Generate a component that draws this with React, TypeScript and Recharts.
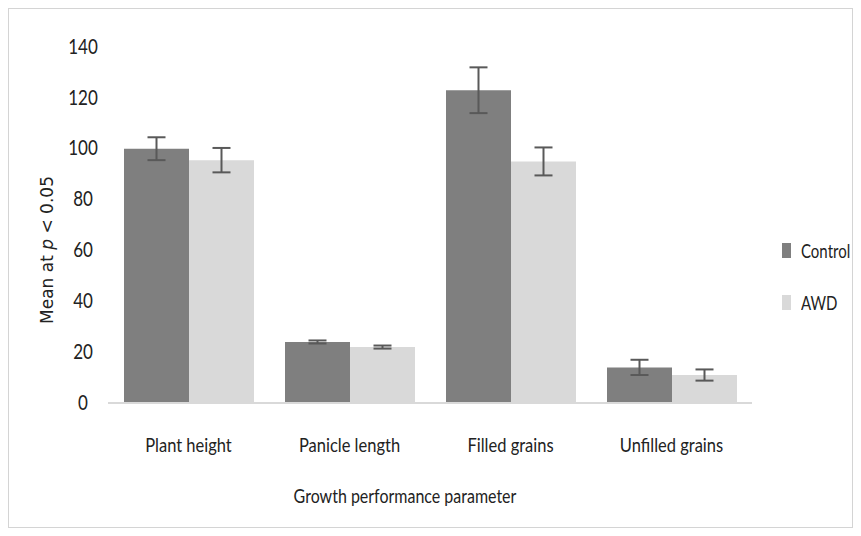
import React from 'react'
import { BarChart, Bar, XAxis, YAxis, Legend, ErrorBar } from 'recharts'

// values
const parameters = ['Plant height', 'Panicle length', 'Filled grains', 'Unfilled grains']
const seriesNames = ['Control', 'AWD']
const controlMeans = [100, 24, 123, 14]
const controlErrors = [4.5, 0.6, 9, 3]
const awdMeans = [95.5, 22, 95, 11]
const awdErrors = [4.8, 0.6, 5.5, 2.2]
const yTicks = [0, 20, 40, 60, 80, 100, 120, 140]

const data = parameters.map((name, i) => ({
  name,
  control: controlMeans[i],
  controlErr: controlErrors[i],
  awd: awdMeans[i],
  awdErr: awdErrors[i],
}))

const TICK_FONT = 'Lato, "Liberation Sans", sans-serif'
// the source image is a little stretched vertically
const STRETCH = 'scale(1, 1.22)'

function YTick({ x, y, payload }: any) {
  return (
    <g transform={`translate(${x - 25}, ${y})`}>
      <text transform={STRETCH} dy="0.32em" textAnchor="middle" fontFamily={TICK_FONT} fontSize={17} fill="#222">
        {payload.value}
      </text>
    </g>
  )
}

function XTick({ x, y, payload }: any) {
  return (
    <g transform={`translate(${x}, ${y + 42})`}>
      <text transform={STRETCH} dy="0.35em" textAnchor="middle" fontFamily={TICK_FONT} fontSize={16.5} fill="#222">
        {payload.value}
      </text>
    </g>
  )
}

function YTitle({ viewBox }: any) {
  const cy = viewBox.y + viewBox.height / 2 + 25
  const cx = 38
  return (
    <text
      x={cx}
      y={cy}
      transform={`rotate(-90, ${cx}, ${cy})`}
      textAnchor="middle"
      dominantBaseline="central"
      fontFamily='"DejaVu Sans", Verdana, sans-serif'
      fontSize={17}
      fill="#222"
    >
      Mean at <tspan fontStyle="italic">p</tspan> &lt; 0.05
    </text>
  )
}

function XTitle() {
  return (
    <g transform="translate(396, 487)">
      <text transform={STRETCH} dy="0.35em" textAnchor="middle" fontFamily={TICK_FONT} fontSize={16} fill="#222">
        Growth performance parameter
      </text>
    </g>
  )
}

function LegendBox({ payload }: any) {
  const items = [...(payload || [])].sort(
    (a: any, b: any) => seriesNames.indexOf(a.value) - seriesNames.indexOf(b.value),
  )
  return (
    <div style={{ fontFamily: TICK_FONT, fontSize: 15, color: '#222', whiteSpace: 'nowrap' }}>
      {items.map((p: any) => (
        <div key={p.value} style={{ display: 'flex', alignItems: 'center', height: 26, marginBottom: 26 }}>
          <span style={{ width: 9, height: 15, background: p.color, display: 'inline-block', marginRight: 10, flexShrink: 0 }} />
          <span style={{ display: 'inline-block', transform: 'scaleY(1.25)' }}>{p.value}</span>
        </div>
      ))}
    </div>
  )
}

export default function App() {
  return (
    <div style={{ width: 845, height: 520, border: '1px solid #d4d4d4', boxSizing: 'border-box', background: '#fff' }}>
      <BarChart
        width={843}
        height={518}
        data={data}
        margin={{ top: 38, right: 100, left: 20, bottom: 0 }}
        barCategoryGap={16}
        barGap={0}
      >
        <XAxis
          dataKey="name"
          height={124}
          axisLine={{ stroke: '#d9d9d9', strokeWidth: 2 }}
          tickLine={false}
          tickSize={0}
          tickMargin={0}
          tick={<XTick />}
          interval={0}
          label={{ content: <XTitle /> }}
        />
        <YAxis
          width={79}
          domain={[0, 140]}
          ticks={yTicks}
          axisLine={false}
          tickLine={false}
          tickSize={0}
          tickMargin={0}
          tick={<YTick />}
          label={{ content: <YTitle /> }}
        />
        <Legend
          layout="horizontal"
          verticalAlign="middle"
          align="center"
          content={<LegendBox />}
          wrapperStyle={{ left: 773, top: 228, width: 75, overflow: 'visible' }}
        />
        <Bar dataKey="control" name="Control" fill="#7f7f7f" isAnimationActive={false}>
          <ErrorBar dataKey="controlErr" width={9} strokeWidth={2} stroke="#595959" />
        </Bar>
        <Bar dataKey="awd" name="AWD" fill="#d9d9d9" isAnimationActive={false}>
          <ErrorBar dataKey="awdErr" width={9} strokeWidth={2} stroke="#595959" />
        </Bar>
      </BarChart>
    </div>
  )
}
